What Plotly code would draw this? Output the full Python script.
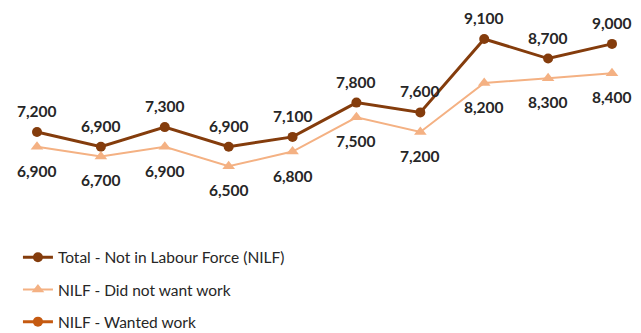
import plotly.graph_objects as go

# Ten consecutive periods (axis is hidden)
periods = list(range(10))

total_nilf = [7200, 6900, 7300, 6900, 7100, 7800, 7600, 9100, 8700, 9000]
did_not_want = [6900, 6700, 6900, 6500, 6800, 7500, 7200, 8200, 8300, 8400]
wanted_work = [300, 200, 400, 400, 300, 300, 400, 900, 400, 600]

names = ["Total - Not in Labour Force (NILF)", "NILF - Did not want work", "NILF - Wanted work"]
colors = ["#843C0C", "#F4B183", "#C55A11"]

label_font = dict(family="Lato", size=15.5, color="#262626")

fig = go.Figure()

fig.add_trace(go.Scatter(
    x=periods, y=total_nilf, name=names[0], legendgroup="a",
    mode="lines+markers",
    line=dict(color=colors[0], width=3),
    marker=dict(symbol="circle", size=10, color=colors[0]),
))

fig.add_trace(go.Scatter(
    x=periods, y=did_not_want, name=names[1], legendgroup="b",
    mode="lines+markers",
    line=dict(color=colors[1], width=2),
    marker=dict(symbol="triangle-up", size=11, color=colors[1]),
))

fig.add_trace(go.Scatter(
    x=periods, y=wanted_work, name=names[2], legendgroup="c",
    mode="lines+markers",
    line=dict(color=colors[2], width=3),
    marker=dict(symbol="circle", size=10, color=colors[2]),
))

# Value labels: totals above their points, "did not want work" below
for xi, v in zip(periods, total_nilf):
    fig.add_annotation(x=xi, y=v, text=f"<b>{v:,}</b>", showarrow=False,
                       yanchor="middle", yshift=21, font=label_font)
for xi, v in zip(periods, did_not_want):
    fig.add_annotation(x=xi, y=v, text=f"<b>{v:,}</b>", showarrow=False,
                       yanchor="middle", yshift=-24, font=label_font)

fig.update_layout(
    width=641, height=333,
    margin=dict(l=0, r=0, t=10, b=103, autoexpand=False),
    paper_bgcolor="white", plot_bgcolor="white",
    font=dict(family="Lato", size=15.5, color="#262626"),
    xaxis=dict(range=[-0.579, 9.454], visible=False, showgrid=False, zeroline=False),
    yaxis=dict(range=[5198, 9692], visible=False, showgrid=False, zeroline=False),
    showlegend=True,
    legend=dict(
        x=0.028, y=0.277, xref="container", yref="container",
        xanchor="left", yanchor="top",
        orientation="v", traceorder="grouped", tracegroupgap=9,
        font=dict(family="Lato", size=15.5, color="#262626"),
        itemwidth=30,
    ),
)

fig.write_html("out.html")
